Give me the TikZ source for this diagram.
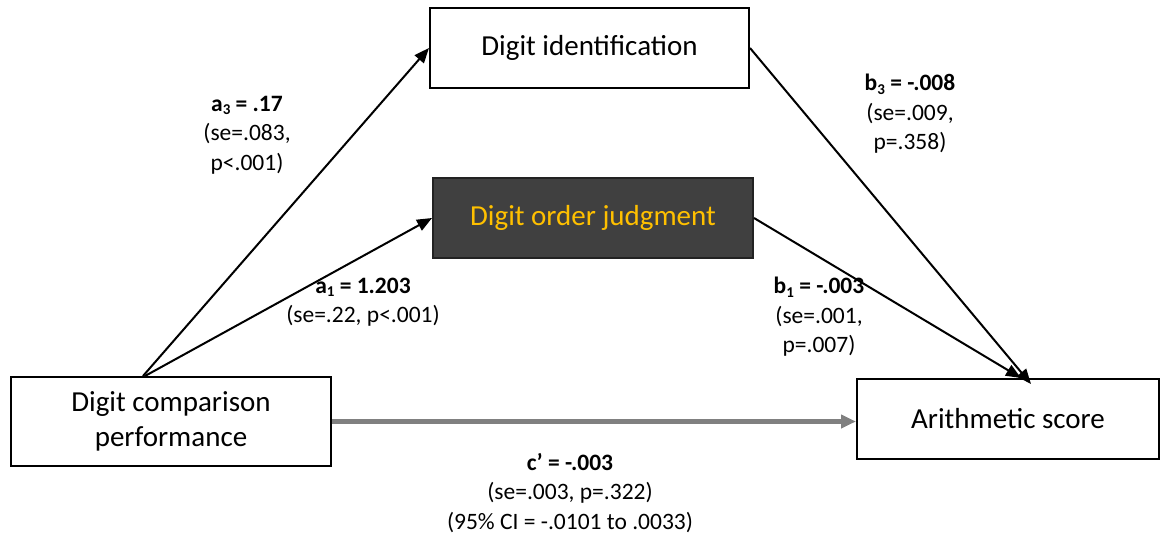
\documentclass[tikz,border=0pt]{standalone}
\usepackage{fontspec}
\setmainfont{Carlito}
\usetikzlibrary{arrows.meta,calc}
\definecolor{boxdark}{HTML}{404040}
\definecolor{boxedge}{HTML}{222222}
\definecolor{gold}{HTML}{FFC000}
\definecolor{pathgray}{HTML}{808080}
\tikzset{
  var/.style={draw=black, line width=2pt, fill=white, inner sep=0pt,
    align=center, font=\fontsize{29}{35}\selectfont},
  focus/.style={var, draw=boxedge, fill=boxdark, text=gold},
  path/.style={line width=2pt, -{Triangle[length=15pt,width=12pt]}},
  direct/.style={line width=4.5pt, draw=pathgray,
    -{Triangle[length=15pt,width=13pt,fill=pathgray]}},
  coef/.style={align=center, inner sep=0pt, font=\fontsize{23.5}{29.5}\selectfont}
}
\newcommand{\low}[1]{\raisebox{-0.3ex}{\fontsize{15}{15}\selectfont #1}}
\begin{document}
\begin{tikzpicture}[x=1pt,y=-1pt]
\useasboundingbox (0,0) rectangle (1161,535);

% variables
\node[var, minimum width=320pt, minimum height=89pt] (cmp) at (171,421.5)
  {Digit comparison\\performance};
\node[var, minimum width=319pt, minimum height=80pt] (ident) at (589.5,48)
  {Digit identification};
\node[focus, minimum width=320pt, minimum height=80pt] (order) at (593,218)
  {Digit order judgment};
\node[var, minimum width=302pt, minimum height=80pt] (arith) at (1008,419)
  {Arithmetic score};

% attachment points on the box edges
\coordinate (s3) at ([xshift=133pt]cmp.north west);
\coordinate (s1) at ([xshift=135pt]cmp.north west);
\coordinate (t3) at ([xshift=175pt,yshift=-6pt]arith.north west);
\coordinate (t1) at ([xshift=165pt]arith.north west);

% paths
\draw[path] (s3) -- (ident.west);
\draw[path] (s1) -- (order.west);
\draw[path] (ident.east) -- (t3);
\draw[path] (order.east) -- (t1);
\draw[direct] (cmp.east) -- (cmp.east -| arith.west);

% coefficients
\node[coef] (la3) at (247,135)
  {\textbf{a\low{3} = .17}\\(se=.083,\\p<.001)};
\node[coef] (la1) at (363,302)
  {\textbf{a\low{1} = 1.203}\\(se=.22, p<.001)};
\node[coef] (lb3) at (910,114)
  {\textbf{b\low{3} = -.008}\\(se=.009,\\p=.358)};
\node[coef] (lb1) at (819,317)
  {\textbf{b\low{1} = -.003}\\(se=.001,\\p=.007)};
\node[coef] (lc) at (570,493)
  {\textbf{c’ = -.003}\\(se=.003, p=.322)\\(95\% CI = -.0101 to .0033)};
\end{tikzpicture}
\end{document}
